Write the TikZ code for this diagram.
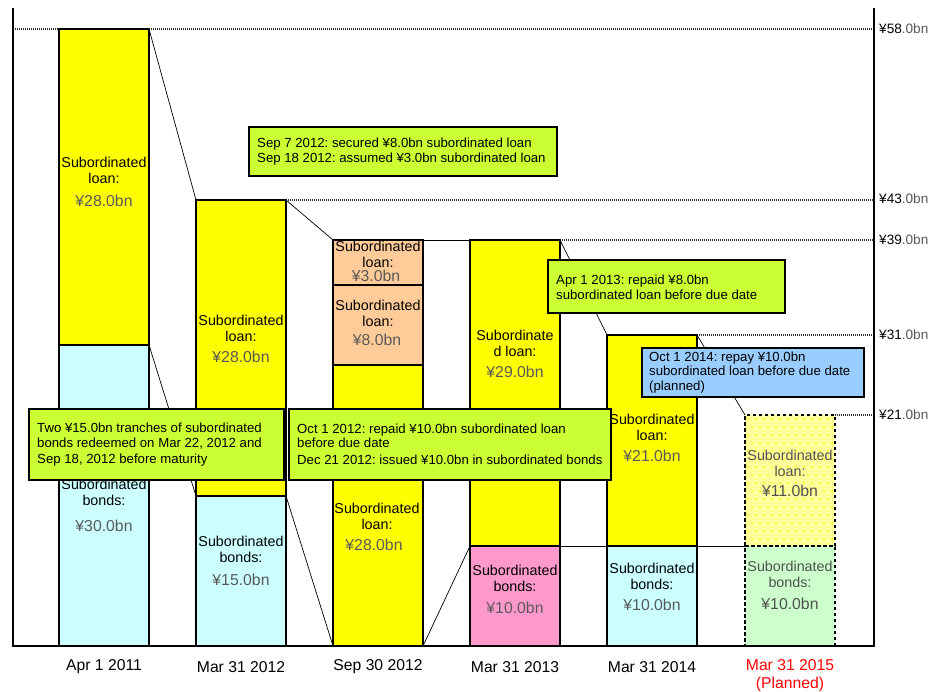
\documentclass[tikz,border=0pt]{standalone}
\usepackage{fontspec}
\setmainfont{Liberation Sans}
\frenchspacing
\definecolor{loanyellow}{HTML}{FFFF00}
\definecolor{bondcyan}{HTML}{CCFFFF}
\definecolor{peach}{HTML}{FFCC99}
\definecolor{bondpink}{HTML}{FF99CC}
\definecolor{notelime}{HTML}{CCFF33}
\definecolor{noteblue}{HTML}{99CCFF}
\definecolor{planyellow}{HTML}{FFFF99}
\definecolor{plandot}{HTML}{FFEE00}
\definecolor{plangreen}{HTML}{CCFFCC}
\definecolor{valgray}{HTML}{595959}
\definecolor{plangray}{HTML}{505050}
\definecolor{guidegray}{HTML}{303030}
\begin{document}
\begin{tikzpicture}[x=1pt,y=-1pt,
  bar/.style={draw=black, line width=1.4pt, outer sep=0pt, inner sep=0pt,
    minimum width=90pt, anchor=north west},
  planbar/.style={bar, dashed, dash pattern=on 3.5pt off 2.5pt},
  barlbl/.style={font=\fontsize{14.3}{16}\selectfont, align=center, inner sep=0pt, text=black},
  barval/.style={font=\fontsize{15.8}{18}\selectfont, inner sep=0pt, text=valgray},
  notebox/.style={draw=black, line width=1.6pt, fill=notelime, inner sep=0pt,
    anchor=north west, outer sep=0pt},
  notetext/.style={align=left, font=\fontsize{13.2}{15.5}\selectfont, anchor=west, inner sep=0pt},
  guide/.style={dash pattern=on 1.2pt off 0.8pt, line width=1.8pt, guidegray},
  link/.style={line width=0.7pt, black},
  axisline/.style={line width=1.6pt, black},
  datelbl/.style={font=\fontsize{15.7}{18}\selectfont, inner sep=0pt, align=center},
  levellbl/.style={font=\fontsize{13.6}{16}\selectfont, inner sep=0pt, anchor=west}]
\useasboundingbox (0,0) rectangle (931,692);

% axis frame
\coordinate (axTL) at (13,8);
\coordinate (axBL) at (13,646);
\coordinate (axBR) at (874,646);
\coordinate (axTR) at (874,8);
\coordinate (g58) at (874,29);
\coordinate (g43) at (874,200);
\coordinate (g39) at (874,240);
\coordinate (g31) at (874,335);
\coordinate (g21) at (874,415);
\coordinate (g58l) at (13,29);

% level guides
\draw[guide] (g58l) -- (g58);
\draw[guide] (286,200) -- (g43);
\draw[guide] (560,240) -- (g39);
\draw[guide] (697,335) -- (g31);
\draw[guide] (835,415) -- (g21);

% bars: Apr 1 2011
\node[bar, fill=loanyellow, minimum height=316pt] (l1) at (59,29) {};
\node[bar, fill=bondcyan, minimum height=301pt] (b1) at (59,345) {};
% Mar 31 2012
\node[bar, fill=loanyellow, minimum height=296pt] (l2) at (196,200) {};
\node[bar, fill=bondcyan, minimum height=150pt] (b2) at (196,496) {};
% Sep 30 2012
\node[bar, fill=peach, minimum height=45pt] (l3a) at (333,240) {};
\node[bar, fill=peach, minimum height=80pt] (l3b) at (333,285) {};
\node[bar, fill=loanyellow, minimum height=281pt] (l3c) at (333,365) {};
% Mar 31 2013
\node[bar, fill=loanyellow, minimum height=306pt] (l4) at (470,240) {};
\node[bar, fill=bondpink, minimum height=100pt] (b4) at (470,546) {};
% Mar 31 2014
\node[bar, fill=loanyellow, minimum height=211pt] (l5) at (607,335) {};
\node[bar, fill=bondcyan, minimum height=100pt] (b5) at (607,546) {};
% Mar 31 2015 (planned)
\fill[planyellow] (745,415) rectangle (835,546);
\begin{scope}
  \clip (745,415) rectangle (835,546);
  \foreach \r in {0,...,17} {
    \foreach \c in {0,...,12} {
      \fill[plandot] ({748+\c*8+mod(\r,2)*4},{419+\r*8}) circle (1pt);
    }
  }
\end{scope}
\fill[plangreen] (745,546) rectangle (835,646);
\node[planbar, minimum height=131pt] (l6) at (745,415) {};
\node[planbar, minimum height=100pt] (b6) at (745,546) {};

% axes
\draw[axisline] (axTL) -- (axBL) -- (axBR) -- (axTR);

% bar texts
\node[barlbl] (l1t) at (104,170) {Subordinated\\loan:};
\node[barval] (l1v) at (104,201) {¥28.0bn};
\node[barlbl] (b1t) at (104,492) {Subordinated\\bonds:};
\node[barval] (b1v) at (104,526) {¥30.0bn};
\node[barlbl] (l2t) at (241,328) {Subordinated\\loan:};
\node[barval] (l2v) at (241,357) {¥28.0bn};
\node[barlbl] (b2t) at (241,549) {Subordinated\\bonds:};
\node[barval] (b2v) at (241,580) {¥15.0bn};
\node[barlbl] (l3at) at (378,254) {Subordinated\\loan:};
\node[barval] (l3av) at (376,276) {¥3.0bn};
\node[barlbl] (l3bt) at (378,313) {Subordinated\\loan:};
\node[barval] (l3bv) at (377,340) {¥8.0bn};
\node[barlbl] (l3ct) at (377,516) {Subordinated\\loan:};
\node[barval] (l3cv) at (374,545) {¥28.0bn};
\node[barlbl] (l4t) at (515,343) {Subordinate\\d loan:};
\node[barval] (l4v) at (515,372) {¥29.0bn};
\node[barlbl] (b4t) at (515,578) {Subordinated\\bonds:};
\node[barval] (b4v) at (515,608) {¥10.0bn};
\node[barlbl] (l5t) at (652,427) {Subordinated\\loan:};
\node[barval] (l5v) at (652,456) {¥21.0bn};
\node[barlbl] (b5t) at (652,576) {Subordinated\\bonds:};
\node[barval] (b5v) at (652,605) {¥10.0bn};
\node[barlbl, text=plangray] (l6t) at (790,463) {Subordinated\\loan:};
\node[barval, text=plangray] (l6v) at (790,491) {¥11.0bn};
\node[barlbl, text=plangray] (b6t) at (790,574) {Subordinated\\bonds:};
\node[barval, text=plangray] (b6v) at (790,604) {¥10.0bn};

% links between consecutive bars
\draw[link] (l1.north east) -- (l2.north west);
\draw[link] (b1.north east) -- (b2.north west);
\draw[link] (l2.north east) -- (l3a.north west);
\draw[link] (b2.north east) -- (l3c.south west);
\draw[link] (l3a.north east) -- (l4.north west);
\draw[link] (l3c.south east) -- (b4.north west);
\draw[link] (l4.north east) -- (l5.north west);
\draw[link] (b4.north east) -- (b5.north west);
\draw[link] (l5.north east) -- (l6.north west);
\draw[link] (b5.north east) -- (b6.north west);

% event notes
\node[notebox, minimum width=308pt, minimum height=49pt] (n1) at (249,127) {};
\node[notetext] (n1t) at ([xshift=8pt]n1.west)
  {Sep 7 2012: secured ¥8.0bn subordinated loan\\Sep 18 2012: assumed ¥3.0bn subordinated loan};
\node[notebox, minimum width=255pt, minimum height=71pt] (n2) at (29,409) {};
\node[notetext] (n2t) at ([xshift=8pt]n2.west)
  {Two ¥15.0bn tranches of subordinated\\bonds redeemed on Mar 22, 2012 and\\Sep 18, 2012 before maturity};
\node[notebox, minimum width=322pt, minimum height=71pt] (n3) at (289,409) {};
\node[notetext] (n3t) at ([xshift=8pt]n3.west)
  {Oct 1 2012: repaid ¥10.0bn subordinated loan\\[-1.5pt]before due date\\[1.5pt]Dec 21 2012: issued ¥10.0bn in subordinated bonds};
\node[notebox, minimum width=237pt, minimum height=53pt] (n4) at (548,260) {};
\node[notetext] (n4t) at ([xshift=8pt,yshift=-1pt]n4.west)
  {Apr 1 2013: repaid ¥8.0bn\\subordinated loan before due date};
\node[notebox, fill=noteblue, minimum width=222pt, minimum height=49pt] (n5) at (642,348) {};
\node[notetext] (n5t) at ([xshift=7pt]n5.west)
  {Oct 1 2014: repay ¥10.0bn\\[-1pt]subordinated loan before due date\\[-1pt](planned)};

% level labels
\node[levellbl] (v58) at (879,29) {¥58{\color{valgray}.0bn}};
\node[levellbl] (v43) at (879,199) {¥43{\color{valgray}.0bn}};
\node[levellbl] (v39) at (879,240) {¥39{\color{valgray}.0bn}};
\node[levellbl] (v31) at (879,335) {¥31{\color{valgray}.0bn}};
\node[levellbl] (v21) at (879,415) {¥21{\color{valgray}.0bn}};

% dates
\node[datelbl] (d1) at (104,667) {Apr 1 2011};
\node[datelbl] (d2) at (241,667) {Mar 31 2012};
\node[datelbl] (d3) at (378,667) {Sep 30 2012};
\node[datelbl] (d4) at (515,667) {Mar 31 2013};
\node[datelbl] (d5) at (652,667) {Mar 31 2014};
\node[datelbl, text=red] (d6) at (790,676) {Mar 31 2015\\(Planned)};
\end{tikzpicture}
\end{document}
